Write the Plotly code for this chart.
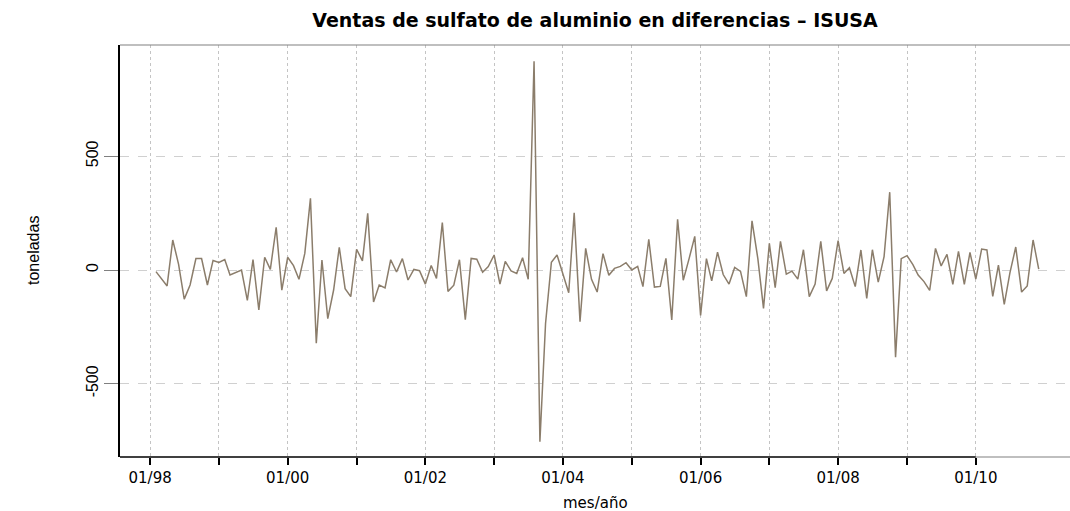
import pandas as pd
import plotly.graph_objects as go

# Monthly differences, Feb 1998 .. Dec 2010 (toneladas)
start_month = "1998-02-01"
diff_values = [
    -7, -38, -70, 132, 25, -128, -66, 50, 50, -66, 42,            # 1998 Feb-Dec
    33, 46, -22, -12, 0, -134, 46, -175, 56, 3, 188, -89,          # 1999
    56, 19, -41, 73, 315, -322, 44, -214, -88, 100, -82, -117,     # 2000
    91, 40, 249, -141, -66, -79, 45, -9, 50, -44, 3, -3,           # 2001
    -62, 20, -37, 208, -94, -67, 45, -218, 51, 47, -10, 15,        # 2002
    66, -62, 38, -4, -15, 54, -41, 918, -755, -235, 34, 66,        # 2003
    -15, -100, 251, -227, 95, -41, -97, 72, -23, 7, 16, 32,        # 2004
    0, 16, -73, 135, -75, -72, 51, -220, 223, -45, 50, 148,        # 2005
    -200, 50, -48, 78, -20, -62, 11, -6, -117, 216, 50, -169,      # 2006
    117, -78, 126, -18, -5, -40, 89, -117, -62, 126, -92, -37,     # 2007
    129, -15, 10, -73, 88, -125, 89, -53, 59, 342, -383, 50,       # 2008
    63, 24, -22, -51, -90, 95, 18, 69, -63, 82, -63, 77,           # 2009
    -40, 92, 88, -116, 21, -151, -13, 101, -97, -70, 132, 4,       # 2010
]
dates = pd.date_range(start_month, periods=len(diff_values), freq="MS")

tick_years = list(range(1998, 2011))
tick_vals = [f"{y}-01-01" for y in tick_years]
tick_text = [f"01/{str(y)[2:]}" if (y - 1998) % 2 == 0 else "" for y in tick_years]
y_ticks = [-500, 0, 500]

x_range = ["1997-07-25", "2011-05-16"]
y_range = [-822, 989]

line_color = "#8B7D6B"

fig = go.Figure()
fig.add_trace(go.Scatter(x=dates, y=diff_values, mode="lines",
                         line=dict(color=line_color, width=1.5),
                         showlegend=False, hoverinfo="x+y"))

fig.update_layout(
    width=1070, height=511,
    margin=dict(l=120, r=0, t=45, b=54),
    paper_bgcolor="white", plot_bgcolor="white",
    title=dict(text="<b>Ventas de sulfato de aluminio en diferencias – ISUSA</b>",
               x=0.5, xref="paper", xanchor="center",
               y=1 - 20 / 511, yref="container", yanchor="middle",
               font=dict(family="DejaVu Sans", size=19, color="black")),
    xaxis=dict(type="date", range=x_range, automargin=False,
               tickmode="array", tickvals=tick_vals, ticktext=tick_text,
               ticks="outside", ticklen=7, tickwidth=1.5, tickcolor="black",
               ticklabelstandoff=0,
               showgrid=True, gridcolor="#c4c4c4", griddash="dot", gridwidth=1,
               showline=False, zeroline=False,
               tickfont=dict(family="DejaVu Sans", size=15, color="black")),
    yaxis=dict(range=y_range, tickmode="array", tickvals=y_ticks, automargin=False,
               ticktext=[str(v) for v in y_ticks],
               ticks="outside", ticklen=14, tickwidth=1, tickcolor="#808080",
               tickangle=-90,
               showgrid=True, gridcolor="#d0d0d0", griddash="dash", gridwidth=1,
               showline=True, linecolor="black", linewidth=1.5, mirror=False,
               zeroline=False,
               tickfont=dict(family="Liberation Sans Narrow, Liberation Sans", size=16, color="black")),
    annotations=[
        dict(text="toneladas", textangle=-90, xref="paper", yref="paper",
             x=0, y=0.5, xshift=-87, xanchor="center", yanchor="middle",
             showarrow=False,
             font=dict(family="Liberation Sans Narrow, Liberation Sans", size=16, color="black")),
        dict(text="mes/año", xref="paper", yref="paper",
             x=0.5, y=0, yshift=-46, xanchor="center", yanchor="middle",
             showarrow=False,
             font=dict(family="DejaVu Sans", size=15, color="black")),
    ],
    shapes=[
        dict(type="line", xref="x", yref="paper", x0=x_range[0], x1=tick_vals[-1], y0=0, y1=0,
             line=dict(color="black", width=1.5), layer="above"),
        dict(type="line", xref="x", yref="paper", x0=tick_vals[-1], x1=x_range[1], y0=0, y1=0,
             line=dict(color="#808080", width=1.2), layer="above"),
        dict(type="line", xref="paper", yref="paper", x0=0, x1=1, y0=1, y1=1,
             line=dict(color="#808080", width=1.2), layer="above"),
    ],
)

fig.write_html("out.html")
